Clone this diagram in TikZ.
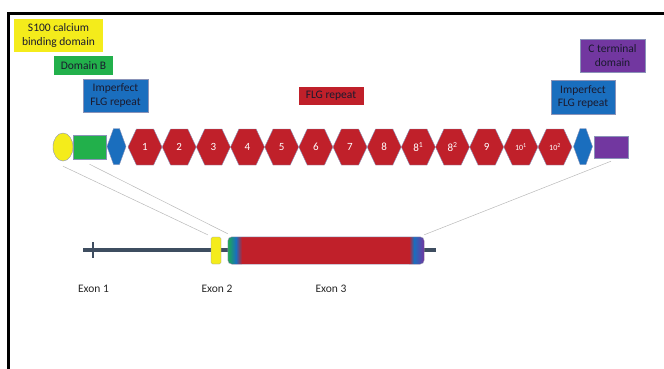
\documentclass[tikz,border=0pt]{standalone}
\usepackage{fontspec}
\setmainfont{Carlito}
\usetikzlibrary{shapes.symbols,shapes.geometric,calc}
\definecolor{flgred}{HTML}{C0202A}
\definecolor{flgblue}{HTML}{1A6EBE}
\definecolor{domgreen}{HTML}{22B04B}
\definecolor{s100yel}{HTML}{F4EC1B}
\definecolor{ctpurple}{HTML}{7237A0}
\definecolor{genegray}{HTML}{3E4D60}
\definecolor{edge}{HTML}{8A93B8}
\definecolor{textdark}{HTML}{1A1A2E}
\tikzset{
  label box/.style={inner sep=0pt, align=center, text=textdark, font=\fontsize{11.5}{13.5}\selectfont},
  repeat hex/.style={shape=signal, signal to=east and west, signal pointer angle=130,
    fill=flgred, draw=edge, line width=0.4pt, minimum width=34pt, minimum height=36pt,
    inner sep=0pt, text=white, font=\fontsize{11}{12}\selectfont},
  imperfect hex/.style={shape=signal, signal to=east and west, signal pointer angle=140,
    fill=flgblue, draw=edge, line width=0.4pt, minimum width=19pt, minimum height=36pt, inner sep=0pt},
  link/.style={draw=gray!55, line width=0.5pt},
  exon label/.style={font=\fontsize{11.5}{13}\selectfont, text=black!85}
}
\begin{document}
\begin{tikzpicture}[x=1pt,y=-1pt]
\useasboundingbox (0,0) rectangle (664,368);
% frame
\draw[line width=3.5pt, black] (8.5,372) -- (8.5,13.5) -- (670,13.5);

% legend boxes
\node[label box, fill=s100yel, minimum width=89pt, minimum height=33pt] (s100lab) at (58.5,35.5) {S100 calcium\\binding domain};
\node[label box, fill=domgreen, minimum width=59pt, minimum height=19pt] (domBlab) at (83.5,65.5) {Domain B};
\node[label box, fill=flgblue, draw=edge, line width=0.3pt, minimum width=65pt, minimum height=33pt] (implabL) at (115.5,95.5) {Imperfect\\FLG repeat};
\node[label box, fill=flgred, minimum width=65pt, minimum height=18pt] (flglab) at (331,95.5) {FLG repeat};
\node[label box, fill=ctpurple, draw=edge, line width=0.3pt, minimum width=65pt, minimum height=33pt] (ctlab) at (612.5,55.5) {C terminal\\domain};
\node[label box, fill=flgblue, draw=edge, line width=0.3pt, minimum width=64pt, minimum height=34pt] (implabR) at (583,97) {Imperfect\\FLG repeat};

% protein domains
\node[ellipse, fill=s100yel, draw=edge, line width=0.4pt, minimum width=20pt, minimum height=28pt, inner sep=0pt] (s100) at (63,147) {};
\node[rectangle, fill=domgreen, draw=edge, line width=0.4pt, minimum width=33pt, minimum height=24pt, inner sep=0pt] (domB) at (89.5,147) {};
\node[imperfect hex] (impL) at (116.5,146.5) {};
\foreach \lab [count=\i from 0] in {1,2,3,4,5,6,7,8,8\textsuperscript{1},8\textsuperscript{2},9,{\fontsize{8}{9}\selectfont 10\textsuperscript{1}},{\fontsize{8}{9}\selectfont 10\textsuperscript{2}}}
  \node[repeat hex] (rep\i) at ({145+34.17*\i},147) {\lab};
\node[imperfect hex] (impR) at (583,146.5) {};
\node[rectangle, fill=ctpurple, draw=edge, line width=0.4pt, minimum width=34pt, minimum height=22pt, inner sep=0pt] (cterm) at (611,147) {};

% gene structure
\node[inner sep=0pt, minimum size=0pt] (gstart) at (83,250) {};
\node[inner sep=0pt, minimum size=0pt] (gend) at (436,250) {};
\draw[genegray, line width=3.4pt] (gstart.center) -- (gend.center);
\draw[genegray, line width=2.6pt] (93,242) -- (93,258);
\node[rectangle, rounded corners=1.5pt, fill=s100yel, draw=edge, line width=0.3pt, minimum width=10pt, minimum height=27pt, inner sep=0pt] (exon2) at (216,250.5) {};
\node[rectangle, rounded corners=4pt, fill=flgred, minimum width=196pt, minimum height=27pt, inner sep=0pt] (exon3) at (326,250.5) {};
\begin{scope}
  \clip[rounded corners=4pt] (228,237) rectangle (424,264);
  \shade[left color=domgreen!85!teal, right color=flgblue] (228,237) rectangle (236,264);
  \shade[left color=flgblue, right color=flgred] (236,237) rectangle (242,264);
  \shade[left color=flgred, right color=flgblue] (409,237) rectangle (414,264);
  \shade[left color=flgblue, right color=ctpurple] (414,237) rectangle (424,264);
\end{scope}
\draw[edge, line width=0.4pt, rounded corners=4pt] (exon3.south west) rectangle (exon3.north east);

\node[exon label] (ex1lab) at (93.5,289) {Exon 1};
\node[exon label] (ex2lab) at (217,289) {Exon 2};
\node[exon label] (ex3lab) at (331,289) {Exon 3};

% projection lines from protein to gene
\draw[link] ($(s100.south)+(0,5)$) -- ($(exon2.north west)+(-3,-2)$);
\draw[link] ($(domB.south)+(0,5)$) -- ($(exon3.north west)+(0,-3)$);
\draw[link] ($(cterm.south)+(0,3)$) -- ($(exon3.north east)+(0,-2)$);
\end{tikzpicture}
\end{document}
